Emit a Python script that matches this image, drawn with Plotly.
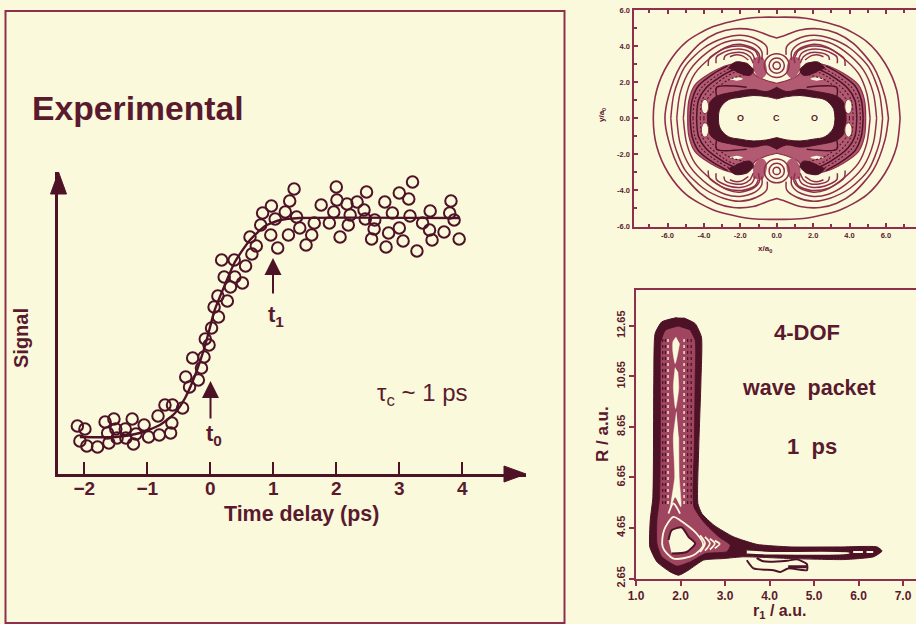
import numpy as np
import plotly.graph_objects as go

W, H = 916, 624
BG = "#FAF9DC"; DARK = "#4E1226"; INK = "#5A1A2E"; MID = "#B25A72"; WMID = "#A04560"; LINE = "#8E2F4B"

# ---------- Experimental signal ----------
delay = [-2.11,-1.99,-2.07,-1.96,-1.79,-1.61,-1.67,-1.63,-1.53,-1.50,-1.48,-1.35,-1.34,-1.24,-1.22,-1.18,-1.05,-.98,-.83,-.81,
         -.63,-.61,-.72,-.60,-.44,-.33,-.39,-.19,-.14,-.28,-.10,-.02,-.08,.02,.13,.06,.27,.12,.32,.51,.22,.39,.56,.18,.38,.66,.73,.63,.80,.96,
         .83,.97,1.03,1.07,1.19,1.24,1.26,1.33,1.37,1.42,1.52,1.61,1.65,1.76,1.89,1.96,2.00,2.01,2.06,2.17,2.19,2.22,2.33,2.44,2.46,2.48,
         2.56,2.60,2.61,2.77,2.79,2.83,2.89,3.00,3.00,3.06,3.15,3.17,3.21,3.28,3.37,3.49,3.48,3.52,3.71,3.80,3.82,3.87,3.95]
signal = [48,45,33,28,27,31,52,41,55,45,36,45,36,55,30,40,49,37,58,39,
          41,51,69,69,66,87,97,94,106,116,117,129,135,146,157,167,173,178,187,191,197,197,208,214,214,220,228,237,249,239,
          261,268,255,226,262,239,273,285,257,246,229,239,251,269,251,262,287,274,237,270,249,259,272,264,255,282,
          235,245,254,272,227,241,261,281,246,233,275,258,292,223,251,263,244,234,242,261,273,254,235]
fit_t = [-2.07,-1.5,-1.12,-.8,-.56,-.40,-.24,-.08,.07,.23,.39,.63,.87,1.11,1.42,3.96]
fit_s = [37,37,41,49,61,76,99,129,164,189,212,234,248,254,256,256]
delay_ticks = [-2,-1,0,1,2,3,4]
delay_labels = ["−2","−1","0","1","2","3","4"]

# ---------- Potential contours (one quadrant, x/a0, y/a0) ----------
c_x = [[-6.78,-6.59,-5.95,-4.95,-3.48,-1.47,0],
       [-6.14,-5.95,-5.31,-4.21,-3.3,-2.38,-1.29,-.37,0]]
c_y = [[0,1.57,3.05,4.25,5.08,5.56,5.6],
       [0,1.2,2.86,4.15,4.71,4.95,4.89,4.56,4.45]]
arc_x = [[-5.82,-5.64,-5.04,-4.03,-2.93,-2.02,-1.1,-.55,-.52],
         [-5.49,-5.31,-4.76,-3.76,-2.84,-2.02,-1.19,-.82,-.82],
         [-5.13,-4.95,-4.49,-3.57,-2.71,-2.02,-1.29,-.95,-1.01],
         [-3.76,-3.7,-2.84,-1.92,-1.19,-1.01],
         [-3.33,-3.3,-2.66,-1.92,-1.37,-1.19],
         [-2.9,-2.84,-2.38,-1.84,-1.47,-1.29],
         [-2.57,-2.29,-1.92,-1.56],
         [-4.75,-4.65,-4.3,-3.5,-2.7],
         [-4.4,-4.3,-3.9,-2.93,-2.2],
         [-3.3,-3.3,-1.65],
         [-4.6,-4.5,-4.1,-3.2,-2.4],
         [-4.2,-4.1,-3.7,-2.8,-1.9],
         [-4.0,-3.9,-3.5,-2.7,-1.6]]
arc_y = [[0,1.38,2.86,3.88,4.43,4.6,4.38,3.97,3.51],
         [0,1.38,2.68,3.69,4.21,4.34,4.1,3.69,3.23],
         [0,1.38,2.49,3.41,3.97,4.1,3.88,3.51,3.05],
         [2.9,3.32,3.88,4.0,3.75,3.41],
         [3.05,3.41,3.75,3.82,3.6,3.23],
         [3.23,3.45,3.63,3.63,3.41,3.05],
         [3.41,3.51,3.47,3.23],
         [0,1.0,1.8,2.45,2.9],
         [0,1.0,1.66,2.4,2.77],
         [1.2,1.72,1.72],
         [0,1.0,1.72,2.42,2.85],
         [0,1.0,1.58,2.3,2.7],
         [0,.9,1.45,2.1,2.45]]
band_x = [-4.89,-4.82,-4.49,-3.66,-2.66,-1.65,-1.19,-.64,0]
band_y = [0,1.02,1.85,2.49,2.95,3.05,2.4,2.12,1.94]
ring_x = [-3.81,-3.7,-3.33,-2.2,-1.28,-.55,0]
ring_y = [0,.83,1.2,1.48,1.6,1.48,1.72]
hole_x = [-3.2,-3.11,-2.66,-2.01,-1.28,-.55,0]
hole_y = [0,.55,1.02,1.16,1.26,1.2,1.07]
blob_x = [-2.66,-2.29,-1.74,-1.28,-1.47,-2.2]
blob_y = [2.77,3.11,3.05,2.68,2.38,2.57]
pink_x = [-1.3,-.8,-.55,-.9,-1.3]
pink_y = [3.3,3.4,2.5,2.2,2.7]
sliver_x = [-2.6,-2.2,-1.85,-2.2]
sliver_y = [2.16,2.27,2.18,2.08]
halo_rx = [.2,.42,.68]
halo_ry = [.2,.42,.66]
halo_cy = 2.92
atom_x = [-2.0,0,2.05]
atom_labels = ["O","C","O"]
pot_ticks = [-6,-4,-2,0,2,4,6]
pot_ylabels = ["-6.0","-4.0","-2.0","0.0","2.0","4.0","6.0"]
pot_xlabels = ["-6.0","-4.0","-2.0","0.0","2.0","4.0","6.0"]

# ---------- Wave packet (r1, R in a.u.) ----------
outer_r = [1.92,1.58,1.43,1.40,1.38,1.32,1.31,1.47,1.77,1.96,2.18,2.52,2.97,3.42,4.47,5.67,6.34,6.53,6.42,5.59,4.47,3.72,3.19,2.75,2.48,2.39,2.41,2.46,2.47,2.33,2.07]
outer_R = [12.98,12.81,12.35,10.50,5.88,4.96,3.90,3.31,2.91,2.78,2.98,3.38,3.44,3.51,3.44,3.40,3.51,3.74,3.90,3.90,3.90,4.00,4.30,4.76,5.22,5.62,7.86,10.50,12.21,12.74,12.97]
mid_r = [1.94,1.66,1.56,1.55,1.53,1.47,1.47,1.58,1.92,2.22,2.56,3.04,3.12,2.86,2.52,2.30,2.31,2.33,2.33,2.22]
mid_R = [12.64,12.48,12.02,9.18,5.88,4.96,4.04,3.51,3.14,3.31,3.64,3.71,3.97,4.30,4.89,5.49,7.86,10.50,12.08,12.48]
island_r = [[1.90,1.83,1.83,1.88,1.93,1.98],
            [1.88,1.84,1.89,1.96,1.94],
            [1.91,1.84,1.87,1.78,1.88,2.01,1.97,1.96],
            [1.73,1.80,2.03,2.18,2.33,2.14,1.80],
            [3.49,4.09,5.81,5.81,4.09,3.49],
            [3.49,3.64,4.09,4.24,4.42,4.84,4.84,4.61,4.39,3.86,3.71]]
island_R = [[12.21,12.02,11.62,11.16,11.49,11.95],
            [11.0,10.24,9.38,10.17,10.83],
            [9.25,8.26,6.67,5.49,5.88,5.49,6.67,8.26],
            [4.17,4.56,4.67,4.30,4.04,3.70,3.64],
            [3.80,3.74,3.70,3.61,3.56,3.60],
            [3.37,3.05,2.98,2.91,3.05,2.98,3.22,3.41,3.35,3.33,3.47]]
foot_r = [[1.6,1.63,1.84,1.99,2.36,2.51,2.29,1.84,1.6],
          [1.73,1.84,1.99],
          [2.44,2.55,2.44],[2.55,2.66,2.55],[2.66,2.77,2.66],[2.77,2.88,2.77],
          [5.88,6.1],[6.18,6.33]]
foot_R = [[3.90,4.56,5.09,4.96,4.43,3.97,3.57,3.44,3.90],
          [5.22,5.62,5.22],
          [4.36,4.04,3.70],[4.30,4.04,3.75],[4.22,4.03,3.80],[4.15,4.02,3.85],
          [3.70,3.70],[3.70,3.70]]
lobe_end_r = [4.42,4.84]
lobe_end_R = [3.12,3.12]
streak_r = [1.60,1.66,1.72,2.08,2.16,2.24]
streak_lo = [5.6,5.6,5.6,5.6,5.6,5.6]
streak_hi = [12.2,12.2,12.2,12.2,12.2,12.2]
wave_xticks = [1,2,3,4,5,6,7]
wave_xlabels = ["1.0","2.0","3.0","4.0","5.0","6.0","7.0"]
wave_yticks = [2.65,4.65,6.65,8.65,10.65,12.65]
wave_ylabels = ["2.65","4.65","6.65","8.65","10.65","12.65"]

# ---------- helpers ----------
def px(v): return v / W
def py(v): return 1 - v / H
def loop(x, y):
    x, y = np.array(x, float), np.array(y, float)
    return (np.r_[x, -x[::-1], -x, x[::-1]], np.r_[y, y[::-1], -y, -y[::-1]])

fig = go.Figure()
def tr(x, y, ax, **kw):
    kw.setdefault("mode", "lines")
    fig.add_trace(go.Scatter(x=x, y=y, xaxis="x"+ax, yaxis="y"+ax, hoverinfo="skip", showlegend=False, **kw))
def poly(x, y, ax, fill, line=None, w=0, smooth=1.0):
    tr(x, y, ax, fill="toself", fillcolor=fill,
       line=dict(color=line or fill, width=w, shape="spline", smoothing=smooth))

# main panel
tr(fit_t, fit_s, "", line=dict(color=DARK, width=2.4, shape="spline", smoothing=.6))
tr(delay, signal, "", mode="markers", marker=dict(symbol="circle-open", size=11.5, color=DARK, line=dict(width=2, color=DARK)))

# potential panel
poly(*loop(band_x, band_y), "2", MID, LINE, 1.2)
for sx, sy in [(1,1),(-1,1),(1,-1),(-1,-1)]:
    poly([sx*v for v in pink_x], [sy*v for v in pink_y], "2", MID)
poly(*loop(ring_x, ring_y), "2", DARK, DARK, 1)
poly(*loop(hole_x, hole_y), "2", BG, DARK, 1)
for sx, sy in [(1,1),(-1,1),(1,-1),(-1,-1)]:
    poly([sx*v for v in blob_x], [sy*v for v in blob_y], "2", DARK, DARK, 1)
    poly([sx*v for v in sliver_x], [sy*v for v in sliver_y], "2", BG)
for cx_, cy_ in zip(c_x, c_y):
    x_, y_ = loop(cx_, cy_)
    tr(x_, y_, "2", line=dict(color=LINE, width=1.6, shape="spline", smoothing=.8))
for i, (ax_, ay_) in enumerate(zip(arc_x, arc_y)):
    for sx, sy in [(1,1),(-1,1),(1,-1),(-1,-1)]:
        col = DARK if i >= 7 else LINE
        tr([sx*v for v in ax_], [sy*v for v in ay_], "2",
           line=dict(color=col, width=1.1 if i >= 10 else 1.5, dash="2px,2px" if i >= 10 else "solid",
                     shape="spline", smoothing=.8))

# wave packet panel
poly(outer_r, outer_R, "3", DARK, DARK, 1, .5)
poly(mid_r, mid_R, "3", WMID, DARK, .8, .5)
for i, (r_, lo, hi) in enumerate(zip(streak_r, streak_lo, streak_hi)):
    tr([r_, r_], [lo, hi], "3", line=dict(color=BG if i in (2, 3) else DARK, width=1.3, dash="3px,3px"))
for i, (ir, iR) in enumerate(zip(island_r, island_R)):
    poly(ir, iR, "3", BG, DARK if i >= 3 else BG, 2 if i >= 3 else .5, .6)
for fr, fR in zip(foot_r, foot_R):
    tr(fr, fR, "3", line=dict(color=BG, width=1.8, shape="spline", smoothing=.8))
tr(lobe_end_r, lobe_end_R, "3", line=dict(color=DARK, width=3))

# ---------- layout ----------
shapes = [
    dict(type="rect", xref="paper", yref="paper", x0=px(5.5), x1=px(564.5), y0=py(623), y1=py(11),
         line=dict(color=LINE, width=2), fillcolor="rgba(0,0,0,0)", layer="below"),
    dict(type="path", xref="paper", yref="paper", fillcolor=DARK, line=dict(color=DARK, width=1),
         path=f"M {px(58.5)} {py(172)} L {px(50.5)} {py(194)} L {px(66.5)} {py(194)} Z"),
    dict(type="path", xref="paper", yref="paper", fillcolor=DARK, line=dict(color=DARK, width=1),
         path=f"M {px(526)} {py(474)} L {px(504)} {py(466)} L {px(504)} {py(482)} Z"),
]
for rx, ry in zip(halo_rx, halo_ry):
    for sy in (1, -1):
        shapes.append(dict(type="circle", xref="x2", yref="y2", x0=-rx, x1=rx,
                           y0=sy*halo_cy-ry, y1=sy*halo_cy+ry, line=dict(color=LINE, width=1.5)))
for sx, sy in [(1,1),(-1,1),(1,-1),(-1,-1)]:
    shapes.append(dict(type="circle", xref="x2", yref="y2", x0=sx*3.94-.2, x1=sx*3.94+.2,
                       y0=sy*.65-.4, y1=sy*.65+.4, fillcolor=BG, line=dict(color=LINE, width=1)))

def note(text, x, y, size, bold=True, angle=0, color=INK, family="Liberation Sans"):
    return dict(text=f"<b>{text}</b>" if bold else text, xref="paper", yref="paper", x=px(x), y=py(y),
                xanchor="center", yanchor="middle", showarrow=False, textangle=angle,
                font=dict(family=family, size=size, color=color))
def arrow(x, y0, y1):
    return dict(xref="paper", yref="paper", x=px(x), y=py(y1), ax=0, ay=y0-y1,
                text="", showarrow=True, arrowhead=2, arrowsize=1.7, arrowwidth=2, arrowcolor=DARK)

annotations = [
    note("Experimental", 138, 108, 33.7),
    note("Signal", 21, 338, 20, angle=-90),
    note("Time delay (ps)", 301, 514, 21.4),
    note("τ<sub>c</sub> ~ 1 ps", 422, 394, 24, bold=False),
    note("t<sub>0</sub>", 214, 435, 22),
    note("t<sub>1</sub>", 276, 316, 22),
    arrow(210.5, 420, 381),
    arrow(273, 295, 258),
    note("4-DOF", 807, 332, 22),
    note("wave&nbsp; packet", 809, 388, 21.5),
    note("1&nbsp; ps", 812, 446, 22),
    note("r<sub>1</sub> / a.u.", 779, 611, 16),
    note("R / a.u.", 602, 434, 17, angle=-90),
    note("x/a<sub>0</sub>", 765, 249, 8),
    note("y/a<sub>0</sub>", 602, 115, 8, angle=-90),
]
for xv, lab in zip(atom_x, atom_labels):
    annotations.append(dict(text=f"<b>{lab}</b>", xref="x2", yref="y2", x=xv, y=0, showarrow=False,
                            font=dict(family="Liberation Sans", size=9, color=INK)))

common = dict(showgrid=False, zeroline=False, color=INK, linecolor=LINE, automargin=False)
fig.update_layout(
    template="none",
    width=W, height=H, margin=dict(l=0, r=0, t=0, b=0, pad=0), autosize=False,
    paper_bgcolor=BG, plot_bgcolor=BG, showlegend=False, shapes=shapes, annotations=annotations,
    xaxis=dict(domain=[px(58), px(526)], range=[(58-210.3)/63, (526-210.3)/63], anchor="y", **{**common, "linecolor": DARK},
               showline=True, linewidth=3, ticks="inside", ticklen=12, tickwidth=2, tickcolor=DARK,
               tickvals=delay_ticks, ticktext=delay_labels, ticklabelstandoff=-5,
               tickfont=dict(family="Liberation Sans", size=19, color=INK, weight="bold")),
    yaxis=dict(domain=[py(474), py(172)], range=[0, 302], anchor="x", **{**common, "linecolor": DARK},
               showline=True, linewidth=3, showticklabels=False, ticks=""),
    xaxis2=dict(domain=[px(633.5), 1], range=[(633.5-776.7)/18.2, (916-776.7)/18.2], anchor="y2", **common,
                showline=True, linewidth=2, mirror="ticks", ticks="inside", ticklen=4, tickwidth=1.5, tickcolor=LINE,
                tickvals=pot_ticks, ticktext=pot_xlabels, minor=dict(dtick=1, ticks="inside", ticklen=3, tickcolor=LINE),
                tickfont=dict(family="Liberation Sans", size=7.5, color=INK, weight="bold")),
    yaxis2=dict(domain=[py(226.5), py(10)], range=[-6, 6], anchor="x2", **common,
                showline=True, linewidth=2, ticks="inside", ticklen=4, tickwidth=1.5, tickcolor=LINE,
                tickvals=pot_ticks, ticktext=pot_ylabels, minor=dict(dtick=1, ticks="inside", ticklen=3, tickcolor=LINE),
                tickfont=dict(family="Liberation Sans", size=7.5, color=INK, weight="bold")),
    xaxis3=dict(domain=[px(636), 1], range=[1, 1+(916-636)/44.5], anchor="y3", **common,
                showline=True, linewidth=2, mirror=True, ticks="outside", ticklen=5, tickwidth=1.5, tickcolor=LINE,
                tickvals=wave_xticks, ticktext=wave_xlabels,
                tickfont=dict(family="Liberation Sans", size=12, color=INK, weight="bold")),
    yaxis3=dict(domain=[py(578.5), py(290)], range=[2.65, 2.65+(578.5-290)/25.26], anchor="x3", **common,
                showline=True, linewidth=2, ticks="outside", ticklen=5, tickwidth=1.5, tickcolor=LINE,
                tickvals=wave_yticks, ticktext=wave_ylabels, tickangle=-90,
                tickfont=dict(family="Liberation Sans", size=11, color=INK, weight="bold")),
)
fig.write_html("out.html", config=dict(displayModeBar=False),
               post_script="document.body.style.margin='0';document.body.style.background='#FAF9DC';")
